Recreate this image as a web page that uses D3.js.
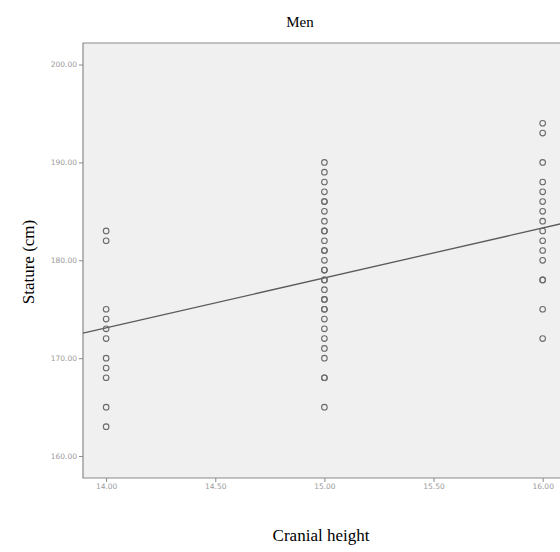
<!DOCTYPE html>
<html lang="en">
<head>
<meta charset="UTF-8">
<title>Men</title>
<script src="https://d3js.org/d3.v7.min.js"></script>
<style>
  body { margin: 0; background: #fff; }
</style>
</head>
<body>
<svg id="chart" width="560" height="552"></svg>
<script>
// cranial height (cm) groups and the statures measured in each
const heights14 = [183, 182, 175, 174, 173, 172, 170, 169, 168, 165, 163];
const heights15 = [190, 189, 188, 187, 186, 186, 185, 184, 183, 183, 182, 181, 181, 180, 179, 179, 178, 178,
                   177, 176, 176, 175, 175, 174, 173, 172, 171, 170, 168, 168, 165];
const heights16 = [194, 193, 190, 188, 187, 186, 185, 184, 183, 182, 181, 180, 178, 178, 175, 172];
const xTicks = [14.0, 14.5, 15.0, 15.5, 16.0];
const yTicks = [160, 170, 180, 190, 200];
// fitted line, read at the ends of the x range
const fitX = [13.894, 16.084];
const fitY = [172.56, 183.73];

const points = [].concat(
  heights14.map(v => ({x: 14, y: v})),
  heights15.map(v => ({x: 15, y: v})),
  heights16.map(v => ({x: 16, y: v}))
);

const svg = d3.select("#chart");
const plot = {left: 83, top: 43, right: 561, bottom: 478};

const x = d3.scaleLinear().domain([13.894, 16.084]).range([plot.left, plot.right]);
const y = d3.scaleLinear().domain([157.76, 202.2]).range([plot.bottom, plot.top]);

svg.append("rect")
    .attr("x", plot.left).attr("y", plot.top)
    .attr("width", plot.right - plot.left).attr("height", plot.bottom - plot.top)
    .attr("fill", "#f0f0f0");

// frame
svg.append("path")
    .attr("d", `M${plot.right},${plot.top}H${plot.left}V${plot.bottom}H${plot.right}`)
    .attr("fill", "none").attr("stroke", "#8a8a8a").attr("stroke-width", 1.2);

const tickColor = "#9a9a9a";

const yAxis = svg.append("g")
    .attr("transform", `translate(${plot.left},0)`)
    .call(d3.axisLeft(y).tickValues(yTicks).tickSize(4).tickPadding(2).tickFormat(d3.format(".2f")));
const xAxis = svg.append("g")
    .attr("transform", `translate(0,${plot.bottom})`)
    .call(d3.axisBottom(x).tickValues(xTicks).tickSize(4).tickPadding(2).tickFormat(d3.format(".2f")));

[xAxis, yAxis].forEach(a => {
  a.select(".domain").remove();
  a.selectAll(".tick line").attr("stroke", "#8a8a8a");
  a.selectAll(".tick text")
    .attr("fill", tickColor)
    .style("font-family", "'DejaVu Sans', sans-serif")
    .style("font-size", "7.5px");
});

// fit line
svg.append("line")
    .attr("x1", x(fitX[0])).attr("y1", y(fitY[0]))
    .attr("x2", x(fitX[1])).attr("y2", y(fitY[1]))
    .attr("stroke", "#5a5a5a").attr("stroke-width", 1.3);

svg.append("g").selectAll("circle")
    .data(points)
    .enter().append("circle")
    .attr("cx", d => x(d.x))
    .attr("cy", d => y(d.y))
    .attr("r", 2.8)
    .attr("fill", "none")
    .attr("stroke", "#6a6a6a")
    .attr("stroke-width", 1.1);

const serif = "'Liberation Serif', 'Times New Roman', serif";

svg.append("text")
    .attr("x", 300).attr("y", 27)
    .attr("text-anchor", "middle")
    .style("font-family", serif).style("font-size", "15px")
    .text("Men");

svg.append("text")
    .attr("x", 321).attr("y", 541)
    .attr("text-anchor", "middle")
    .style("font-family", serif).style("font-size", "17px")
    .text("Cranial height");

svg.append("text")
    .attr("transform", "translate(34,262) rotate(-90)")
    .attr("text-anchor", "middle")
    .style("font-family", serif).style("font-size", "17px")
    .text("Stature (cm)");
</script>
</body>
</html>
